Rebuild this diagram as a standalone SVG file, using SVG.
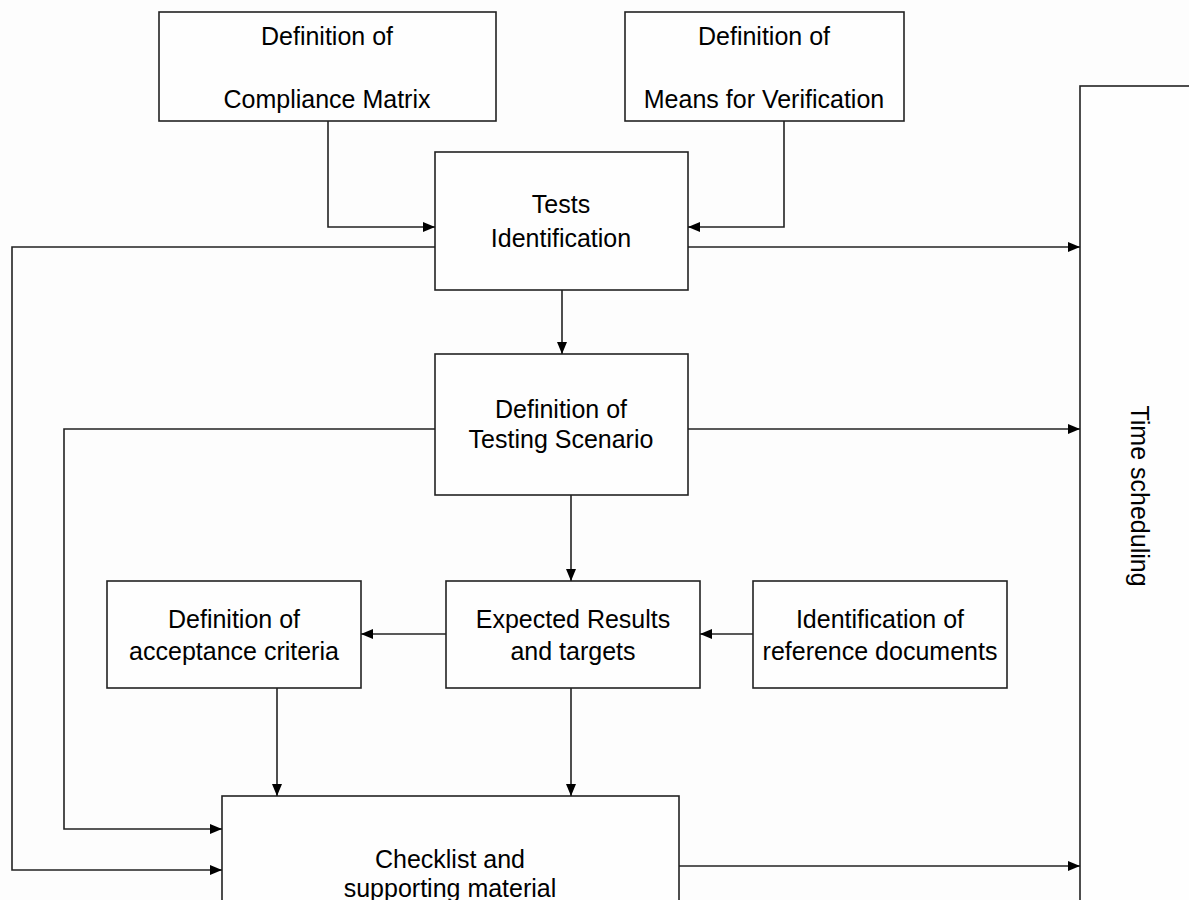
<svg xmlns="http://www.w3.org/2000/svg" width="1189" height="900" viewBox="0 0 1189 900">
<defs>
<marker id="ah" markerUnits="userSpaceOnUse" markerWidth="12" markerHeight="10" viewBox="0 0 12 10" refX="12" refY="5" orient="auto">
<path d="M0,0 L12,5 L0,10 Z" fill="#000"/>
</marker>
<style>
.box{fill:#fefefe;stroke:#222;stroke-width:1.6}
.t{font-family:"Liberation Sans",Arial,sans-serif;font-size:25px;fill:#000;text-anchor:middle}
.c{fill:none;stroke:#222;stroke-width:1.6;marker-end:url(#ah)}
</style>
</defs>
<rect width="1189" height="900" fill="#fdfdfd"/>
<g id="time">
<rect class="box" x="1080" y="86" width="200" height="900"/>
<text class="t" transform="translate(1131,496) rotate(90)">Time scheduling</text>
</g>
<g id="cm">
<rect class="box" x="159" y="12" width="337" height="109"/>
<text class="t" x="327" y="45">Definition of</text>
<text class="t" x="327" y="108">Compliance Matrix</text>
</g>
<g id="mv">
<rect class="box" x="625" y="12" width="279" height="109"/>
<text class="t" x="764" y="45">Definition of</text>
<text class="t" x="764" y="108">Means for Verification</text>
</g>
<g id="tests">
<rect class="box" x="435" y="152" width="253" height="138"/>
<text class="t" x="561" y="213">Tests</text>
<text class="t" x="561" y="247">Identification</text>
</g>
<g id="scenario">
<rect class="box" x="435" y="354" width="253" height="141"/>
<text class="t" x="561" y="418">Definition of</text>
<text class="t" x="561" y="448">Testing Scenario</text>
</g>
<g id="acceptance">
<rect class="box" x="107" y="581" width="254" height="107"/>
<text class="t" x="234" y="628">Definition of</text>
<text class="t" x="234" y="660">acceptance criteria</text>
</g>
<g id="expected">
<rect class="box" x="446" y="581" width="254" height="107"/>
<text class="t" x="573" y="628">Expected Results</text>
<text class="t" x="573" y="660">and targets</text>
</g>
<g id="refdocs">
<rect class="box" x="753" y="581" width="254" height="107"/>
<text class="t" x="880" y="628">Identification of</text>
<text class="t" x="880" y="660">reference documents</text>
</g>
<g id="checklist">
<rect class="box" x="222" y="796" width="457" height="200"/>
<text class="t" x="450" y="868">Checklist and</text>
<text class="t" x="450" y="897">supporting material</text>
</g>
<g id="connectors">
<path class="c" d="M328,121 V227 H435"/>
<path class="c" d="M784,121 V227 H688"/>
<path class="c" d="M688,247 H1080"/>
<path class="c" d="M435,247 H12 V870 H222"/>
<path class="c" d="M562,290 V354"/>
<path class="c" d="M688,429 H1080"/>
<path class="c" d="M435,429 H64 V829 H222"/>
<path class="c" d="M571,495 V581"/>
<path class="c" d="M753,634 H700"/>
<path class="c" d="M446,634 H361"/>
<path class="c" d="M277,688 V796"/>
<path class="c" d="M571,688 V796"/>
<path class="c" d="M679,866 H1080"/>
</g>
</svg>
